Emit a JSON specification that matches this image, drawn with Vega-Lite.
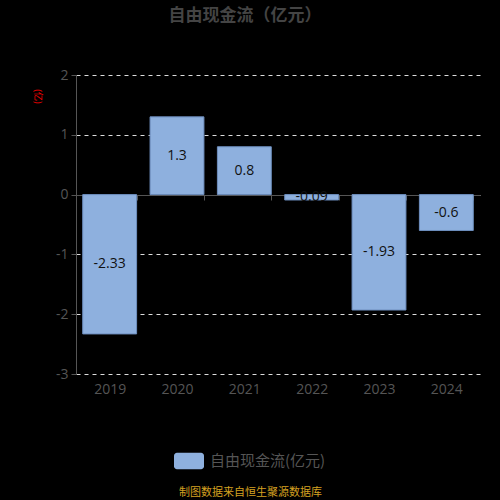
{
  "$schema": "https://vega.github.io/schema/vega-lite/v6.json",
  "autosize": "none",
  "width": 404,
  "height": 299,
  "padding": {"top": 75, "left": 76, "right": 20, "bottom": 126},
  "background": "#000000",
  "config": {
    "view": {"stroke": null},
    "font": "Open Sans, Noto Sans CJK SC",
    "locale": {
      "number": {
        "decimal": ".",
        "thousands": ",",
        "grouping": [3],
        "currency": ["", ""],
        "minus": "-"
      }
    }
  },
  "title": {
    "text": "自由现金流（亿元）",
    "anchor": "middle",
    "dx": -33,
    "offset": 43,
    "fontSize": 17,
    "fontWeight": "bold",
    "font": "Noto Sans CJK SC",
    "color": "#444444"
  },
  "data": {
    "values": [
      {"year": "2019", "v": -2.33, "series": "自由现金流(亿元)"},
      {"year": "2020", "v": 1.3, "series": "自由现金流(亿元)"},
      {"year": "2021", "v": 0.8, "series": "自由现金流(亿元)"},
      {"year": "2022", "v": -0.09, "series": "自由现金流(亿元)"},
      {"year": "2023", "v": -1.93, "series": "自由现金流(亿元)"},
      {"year": "2024", "v": -0.6, "series": "自由现金流(亿元)"}
    ]
  },
  "layer": [
    {
      "mark": {"type": "bar", "stroke": "#6e8fbf", "strokeWidth": 1},
      "encoding": {
        "x": {
          "field": "year",
          "type": "ordinal",
          "scale": {"paddingInner": 0.2, "paddingOuter": 0.1},
          "title": "制图数据来自恒生聚源数据库",
          "axis": {
            "offset": -179,
            "labelAngle": 0,
            "labelColor": "#555555",
            "labelFontSize": 14,
            "labelPadding": 182,
            "domainColor": "#555555",
            "tickColor": "#555555",
            "tickSize": 5,
            "tickBand": "extent",
            "titleColor": "#d4a020",
            "titleFont": "Noto Sans CJK SC",
            "titleFontSize": 11,
            "titleFontWeight": "normal",
            "titleX": 174,
            "titleY": 297,
            "titleBaseline": "middle",
            "titleAnchor": "middle"
          }
        },
        "y": {
          "field": "v",
          "type": "quantitative",
          "scale": {"domain": [-3, 2]},
          "title": "(亿)",
          "axis": {
            "values": [-3, -2, -1, 0, 1, 2],
            "labelColor": "#555555",
            "labelFontSize": 14,
            "labelPadding": 3,
            "domainColor": "#555555",
            "tickColor": "#555555",
            "tickSize": 5,
            "gridColor": "#dddddd",
            "gridDash": [4, 4],
            "titleColor": "#ff0000",
            "titleFont": "Noto Sans CJK SC",
            "titleFontSize": 9,
            "titleFontWeight": "normal",
            "titleAngle": 90,
            "titleX": -39,
            "titleY": 21,
            "titleAlign": "center",
            "titleBaseline": "middle"
          }
        },
        "color": {
          "field": "series",
          "type": "nominal",
          "scale": {"range": ["#8eb0de"]},
          "legend": {
            "orient": "none",
            "legendX": 98,
            "legendY": 371,
            "title": null,
            "symbolType": "M-0.8,-0.55H0.8A0.2,0.2 0 0 1 1,-0.35V0.35A0.2,0.2 0 0 1 0.8,0.55H-0.8A0.2,0.2 0 0 1 -1,0.35V-0.35A0.2,0.2 0 0 1 -0.8,-0.55Z",
            "symbolSize": 900,
            "symbolStrokeWidth": 0,
            "symbolOpacity": 1,
            "labelColor": "#555555",
            "labelFont": "Noto Sans CJK SC",
            "labelFontSize": 15,
            "labelOffset": 6
          }
        }
      }
    },
    {
      "mark": {"type": "text", "color": "#111111", "fontSize": 14, "baseline": "middle"},
      "encoding": {
        "x": {"field": "year", "type": "ordinal"},
        "y": {
          "field": "v",
          "type": "quantitative",
          "scale": {"domain": [-6, 4]},
          "axis": null
        },
        "text": {"field": "v", "type": "quantitative"}
      }
    }
  ],
  "resolve": {"scale": {"y": "independent"}}
}
